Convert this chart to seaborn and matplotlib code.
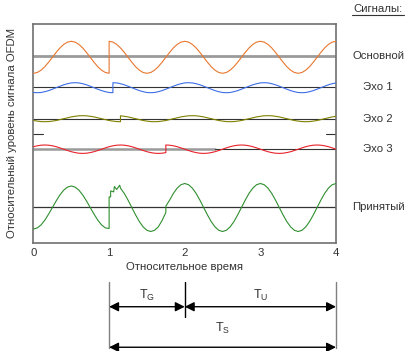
import numpy as np
import pandas as pd
import matplotlib
matplotlib.use("Agg")
import matplotlib.pyplot as plt
import seaborn as sns
from matplotlib.lines import Line2D

sns.set_style("white")
plt.rcParams['font.family'] = ['Liberation Sans', 'DejaVu Sans']
plt.rcParams['mathtext.fontset'] = 'custom'
plt.rcParams['mathtext.rm'] = 'Liberation Sans'
plt.rcParams['mathtext.it'] = 'Liberation Sans:italic'

# ---------------- data ----------------
t_step = 0.05
series_names = ["Основной", "Эхо 1", "Эхо 2", "Эхо 3", "Принятый"]
series_colors = ["#E8772E", "#3C6EE6", "#808000", "#E8222A", "#2F8F2F"]
baselines = [186.7, 155.7, 124.0, 93.7, 35.7]
wave_centers = [185.7, 155.3, 124.3, 93.8, 35.5]

main_sym1 = [-16, -15.2, -12.9, -9.4, -4.9, 0, 4.9, 9.4, 12.9, 15.2, 16, 15.2, 12.9, 9.4, 4.9, 0,
             -4.9, -9.4, -12.9, -15.2, -16]
main_sym2 = [16, 15.2, 12.9, 9.4, 4.9, 0, -4.9, -9.4, -12.9, -15.2, -16, -15.2, -12.9, -9.4, -4.9, 0,
             4.9, 9.4, 12.9, 15.2,
             16, 15.2, 12.9, 9.4, 4.9, 0, -4.9, -9.4, -12.9, -15.2, -16, -15.2, -12.9, -9.4, -4.9, 0,
             4.9, 9.4, 12.9, 15.2,
             16, 15.2, 12.9, 9.4, 4.9, 0, -4.9, -9.4, -12.9, -15.2, -16, -15.2, -12.9, -9.4, -4.9, 0,
             4.9, 9.4, 12.9, 15.2, 16]

echo1_sym1 = [-4.8, -5, -4.8, -4.0, -2.9, -1.5, 0, 1.5, 2.9, 4.0, 4.8, 5, 4.8, 4.0, 2.9, 1.5, 0,
              -1.5, -2.9, -4.0, -4.8, -5]
echo1_sym2 = [5, 4.8, 4.0, 2.9, 1.5, 0, -1.5, -2.9, -4.0, -4.8, -5, -4.8, -4.0, -2.9, -1.5, 0,
              1.5, 2.9, 4.0, 4.8,
              5, 4.8, 4.0, 2.9, 1.5, 0, -1.5, -2.9, -4.0, -4.8, -5, -4.8, -4.0, -2.9, -1.5, 0,
              1.5, 2.9, 4.0, 4.8,
              5, 4.8, 4.0, 2.9, 1.5, 0, -1.5, -2.9, -4.0, -4.8, -5, -4.8, -4.0, -2.9, -1.5, 0,
              1.5, 2.9, 4.0, 4.8]

echo2_sym1 = [-1.8, -2.4, -2.9, -3, -2.9, -2.4, -1.8, -0.9, 0, 0.9, 1.8, 2.4, 2.9, 3, 2.9, 2.4,
              1.8, 0.9, 0, -0.9, -1.8, -2.4, -2.9, -3]
echo2_sym2 = [2.9, 2.4, 1.8, 0.9, 0, -0.9, -1.8, -2.4, -2.9, -3, -2.9, -2.4, -1.8, -0.9, 0, 0.9,
              1.8, 2.4, 2.9,
              3, 2.9, 2.4, 1.8, 0.9, 0, -0.9, -1.8, -2.4, -2.9, -3, -2.9, -2.4, -1.8, -0.9, 0, 0.9,
              1.8, 2.4, 2.9,
              3, 2.9, 2.4, 1.8, 0.9, 0, -0.9, -1.8, -2.4, -2.9, -3, -2.9, -2.4, -1.8, -0.9, 0, 0.9,
              1.8, 2.4]

echo3_sym1 = [2.5, 3.4, 4.0, 4.2, 4.0, 3.4, 2.5, 1.3, 0, -1.3, -2.5, -3.4, -4.0, -4.2, -4.0, -3.4,
              -2.5, -1.3, 0, 1.3, 2.5, 3.4, 4.0, 4.2, 4.0, 3.4, 2.5, 1.3, 0, -1.3, -2.5, -3.4,
              -4.0, -4.2, -4.0, -3.4]
echo3_sym2 = [4.2, 4.0, 3.4, 2.5, 1.3, 0, -1.3, -2.5, -3.4, -4.0, -4.2, -4.0, -3.4, -2.5, -1.3, 0,
              1.3, 2.5, 3.4, 4.0,
              4.2, 4.0, 3.4, 2.5, 1.3, 0, -1.3, -2.5, -3.4, -4.0, -4.2, -4.0, -3.4, -2.5, -1.3, 0,
              1.3, 2.5, 3.4, 4.0,
              4.2, 4.0, 3.4, 2.5, 1.3, 0]

recv_sym1 = [-21.5, -20.4, -17.4, -12.6, -6.6, 0, 6.6, 12.6, 17.4, 20.4, 21.5, 20.4, 17.4, 12.6,
             6.6, 0, -6.6, -12.6, -17.4, -20.4, -21]
recv_jag_t = [1.0, 1.02, 1.02, 1.06, 1.07, 1.10, 1.14]
recv_jag_v = [10.6, 10.6, 16.6, 15.6, 21.0, 18.0, 22.3]
recv_mid = [19.4, 14.1, 7.4, 0, -7.4, -14.1, -19.4, -22.8, -24, -22.8, -19.4, -13, -5]
recv_sym2 = [1.3, 7.4, 14.1, 19.4, 22.8,
             24, 22.8, 19.4, 14.1, 7.4, 0, -7.4, -14.1, -19.4, -22.8, -24, -22.8, -19.4, -14.1,
             -7.4, 0, 7.4, 14.1, 19.4, 22.8,
             24, 22.8, 19.4, 14.1, 7.4, 0, -7.4, -14.1, -19.4, -22.8, -24, -22.8, -19.4, -14.1,
             -7.4, 0, 7.4, 14.1, 19.4, 22.8,
             24]

# segment start times (symbol boundaries as seen in the picture)
main_starts = [0.0, 1.0]
echo1_starts = [0.0, 1.05]
echo2_starts = [0.0, 1.15]
echo3_starts = [0.0, 1.75]
recv_starts = [0.0, 1.15, 1.75]

stub_level = 108.7
stub_spans = [[0.0, 0.13], [3.87, 4.0]]
echo3_gray_end = 2.4

x_ticks = [0, 1, 2, 3, 4]
guard_start, useful_start, symbol_end = 1.0, 2.0, 4.0


def segments_df(starts, seg_values, center, extra=None):
    frames = []
    for st, vals in zip(starts, seg_values):
        frames.append(pd.DataFrame({"t": st + t_step * np.arange(len(vals)),
                                    "v": np.asarray(vals, float)}))
    if extra is not None:
        frames.insert(1, pd.DataFrame({"t": extra[0], "v": np.asarray(extra[1], float)}))
    df = pd.concat(frames, ignore_index=True)
    df["y"] = df["v"] + center
    return df


dfs = [
    segments_df(main_starts, [main_sym1, main_sym2], wave_centers[0]),
    segments_df(echo1_starts, [echo1_sym1, echo1_sym2], wave_centers[1]),
    segments_df(echo2_starts, [echo2_sym1, echo2_sym2], wave_centers[2]),
    segments_df(echo3_starts, [echo3_sym1, echo3_sym2], wave_centers[3]),
    segments_df(recv_starts, [recv_sym1, recv_mid, recv_sym2], wave_centers[4],
                extra=(recv_jag_t, recv_jag_v)),
]

# ---------------- figure ----------------
W, H = 406, 351
fig = plt.figure(figsize=(W / 100, H / 100), dpi=100)
ax = fig.add_axes([33.5 / W, 108 / H, (336 - 33.5) / W, 219 / H])

dark = "#333333"
gray = "#9a9a9a"

# baselines
ax.plot([0, 4], [baselines[0]] * 2, color=gray, lw=2.0, zorder=1)
ax.plot([0, 4], [baselines[1]] * 2, color=dark, lw=0.8, zorder=1)
ax.plot([0, 4], [baselines[2]] * 2, color=dark, lw=0.8, zorder=1)
ax.plot([0, echo3_gray_end], [baselines[3]] * 2, color=gray, lw=1.8, zorder=1)
ax.plot([echo3_gray_end, 4], [baselines[3]] * 2, color=dark, lw=0.8, zorder=1)
ax.plot([0, 4], [baselines[4]] * 2, color=dark, lw=0.9, zorder=1)
for sp in stub_spans:
    ax.plot(sp, [stub_level] * 2, color=dark, lw=0.8, zorder=1)

for df, col in zip(dfs, series_colors):
    sns.lineplot(data=df, x="t", y="y", ax=ax, color=col, lw=0.8, sort=False,
                 estimator=None, errorbar=None, legend=False, zorder=3)

ax.set_xlim(0, 4)
ax.set_ylim(0, 219)
ax.set_xticks(x_ticks)
ax.set_xticklabels([str(x) for x in x_ticks])
ax.set_yticks([])
ax.tick_params(axis="x", length=0, pad=3.5, labelsize=8.2, labelcolor=dark)
for sp in ax.spines.values():
    sp.set_color("#707070")
    sp.set_linewidth(1.2)
ax.set_xlabel("Относительное время", fontsize=8.2, color=dark, labelpad=3)
ax.set_ylabel("Относительный уровень сигнала OFDM", fontsize=8.2, color=dark)
ax.yaxis.set_label_coords(-0.055, 0.5)

# right-hand labels
label_x = 4 + (378 - 336) / 75.6
for name, yb in zip(series_names, baselines):
    ax.text(label_x, yb, name, ha="center", va="center", fontsize=8.2, color=dark,
            clip_on=False)
fig.text(378 / W, 1 - 8.5 / H, "Сигналы:", ha="center", va="center", fontsize=8.2, color=dark)
fig.add_artist(Line2D([352 / W, 404 / W], [1 - 14.5 / H, 1 - 14.5 / H],
                      transform=fig.transFigure, color=dark, lw=0.8))

# time intervals below the axes
trans = ax.get_xaxis_transform()
ax.plot([guard_start, guard_start], [-0.177, -0.48], transform=trans, color="#808080",
        lw=1.0, clip_on=False)
ax.plot([symbol_end, symbol_end], [-0.177, -0.48], transform=trans, color="#808080",
        lw=1.0, clip_on=False)
ax.plot([useful_start, useful_start], [-0.177, -0.337], transform=trans, color="black",
        lw=1.0, clip_on=False)

arrow_kw = dict(arrowstyle="<|-|>,head_length=0.8,head_width=0.4", color="black", lw=1.0,
                shrinkA=0, shrinkB=0, mutation_scale=7)
for (x0, x1, yy) in [(guard_start, useful_start, -0.291), (useful_start, symbol_end, -0.291),
                     (guard_start, symbol_end, -0.476)]:
    ax.annotate("", xy=(x1, yy), xytext=(x0, yy), xycoords=trans, textcoords=trans,
                arrowprops=arrow_kw, annotation_clip=False)

ax.text((guard_start + useful_start) / 2, -0.24, r"T$_{\mathrm{G}}$", transform=trans,
        ha="center", va="center", fontsize=9, color=dark)
ax.text((useful_start + symbol_end) / 2, -0.24, r"T$_{\mathrm{U}}$", transform=trans,
        ha="center", va="center", fontsize=9, color=dark)
ax.text((guard_start + symbol_end) / 2, -0.39, r"T$_{\mathrm{S}}$", transform=trans,
        ha="center", va="center", fontsize=9, color=dark)

fig.savefig("out.png", dpi=100)
